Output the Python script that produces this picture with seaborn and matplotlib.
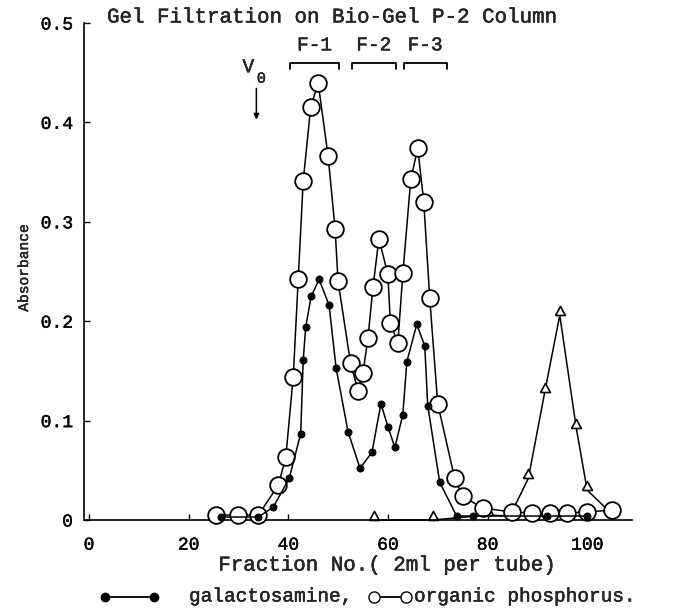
import pandas as pd
import seaborn as sns
import matplotlib.pyplot as plt
import matplotlib.patheffects as pe
from matplotlib.lines import Line2D
from matplotlib.text import Text

# galactosamine (filled dots)
gal_frac = [26.4, 34, 37, 40.2, 42.5, 43.0, 43.5, 44.6, 46.2, 48.2, 49.6, 52, 54.4,
            56.8, 58.6, 60, 61.4, 63, 63.8, 65.8, 67.4, 68, 70.4, 73.8, 77, 92, 100]
gal_abs = [0.003, 0.003, 0.013, 0.042, 0.087, 0.161, 0.194, 0.225, 0.242, 0.216,
           0.153, 0.089, 0.052, 0.068, 0.117, 0.094, 0.073, 0.106, 0.159, 0.197,
           0.175, 0.115, 0.038, 0.004, 0.004, 0.004, 0.004]

# organic phosphorus (open circles)
phos_frac = [25.4, 30, 34, 38, 39.5, 41, 42, 43, 44.5, 46, 48, 49.4, 50, 52.5, 54,
             55, 56, 57, 58.2, 60, 60.5, 62, 63, 64.6, 66, 67.2, 68.4, 70, 73.4, 75,
             79, 85, 89, 92.5, 96, 100, 105]
phos_abs = [0.005, 0.005, 0.005, 0.035, 0.063, 0.144, 0.242, 0.341, 0.415, 0.44,
            0.366, 0.293, 0.24, 0.158, 0.13, 0.148, 0.183, 0.234, 0.283, 0.247,
            0.198, 0.178, 0.248, 0.343, 0.374, 0.32, 0.223, 0.117, 0.042, 0.024,
            0.012, 0.008, 0.007, 0.007, 0.007, 0.008, 0.01]

# third trace (open triangles, not in the key)
tri_frac = [57.2, 69, 80, 84.5, 88.2, 91.5, 94.5, 97.8, 100, 105]
tri_abs = [0.0, 0.0, 0.005, 0.004, 0.042, 0.129, 0.206, 0.093, 0.030, 0.006]

# pooled fractions
pool_names = ["F-1", "F-2", "F-3"]
pool_start = [40.4, 52.8, 63.2]
pool_end = [50.2, 61.6, 71.8]
v0_frac = 33.6

xticks = [0, 20, 40, 60, 80, 100]
yticks = [0, 0.1, 0.2, 0.3, 0.4, 0.5]
ytick_labels = ["0", "0.1", "0.2", "0.3", "0.4", "0.5"]

sns.set_style("ticks")
plt.rcParams['font.family'] = ['Liberation Mono', 'DejaVu Sans Mono']

W, H = 689, 616
fig = plt.figure(figsize=(W / 100, H / 100), dpi=100)
ax = fig.add_axes([84 / W, 1 - 520 / H, (632 - 84) / W, (520 - 23) / H])

phos = pd.DataFrame({"frac": phos_frac, "abs": phos_abs})
gal = pd.DataFrame({"frac": gal_frac, "abs": gal_abs})
tri = pd.DataFrame({"frac": tri_frac, "abs": tri_abs})

# triangle standing on its data point
tri_marker = [(-0.6, 0), (0.6, 0), (0, 1.1), (-0.6, 0)]

sns.lineplot(data=tri, x="frac", y="abs", ax=ax, color="black", lw=1.1,
             marker=tri_marker, markersize=13, markerfacecolor="white",
             markeredgecolor="black", markeredgewidth=1.2, clip_on=False, zorder=2)
sns.lineplot(data=phos, x="frac", y="abs", ax=ax, color="black", lw=1.1,
             marker="o", markersize=12, markerfacecolor="white",
             markeredgecolor="black", markeredgewidth=1.3, clip_on=False, zorder=3)
sns.lineplot(data=gal, x="frac", y="abs", ax=ax, color="black", lw=1.1,
             marker="o", markersize=5, markerfacecolor="black",
             markeredgecolor="black", clip_on=False, zorder=4)

ax.set_xlim(-1, 109)
ax.set_ylim(0, 0.5)
ax.set_xticks(xticks)
ax.set_xticklabels([str(t) for t in xticks])
ax.set_yticks(yticks)
ax.set_yticklabels(ytick_labels)
ax.tick_params(direction="in", length=4, width=1, labelsize=13, colors="black")
ax.tick_params(axis="x", pad=12)
ax.tick_params(axis="y", pad=8)
sns.despine(ax=ax)
for s in ["left", "bottom"]:
    ax.spines[s].set_linewidth(1.2)
    ax.spines[s].set_color("black")
ax.set_xlabel("")
ax.set_ylabel("")

# pool brackets
for name, a, b in zip(pool_names, pool_start, pool_end):
    ax.plot([a, a, b, b], [0.454, 0.46, 0.46, 0.454], color="black", lw=1.3,
            clip_on=False)
    ax.text((a + b) / 2, 0.477, name, ha="center", va="center", fontsize=14)

# void volume marker
ax.annotate("", xy=(v0_frac, 0.400), xytext=(v0_frac, 0.437),
            arrowprops=dict(arrowstyle="-|>", color="black", lw=1.1,
                            mutation_scale=8))
ax.text(v0_frac - 1.6, 0.455, "V", ha="center", va="center", fontsize=14)
ax.text(v0_frac + 1.0, 0.444, "0", ha="center", va="center", fontsize=11)

fig.text(107 / W, 1 - 17 / H, "Gel Filtration on Bio-Gel P-2 Column",
         ha="left", va="center", fontsize=15)
fig.text(24 / W, 1 - 268 / H, "Absorbance", rotation=90, ha="center",
         va="center", fontsize=10.5)
fig.text(387 / W, 1 - 565 / H, "Fraction No.( 2ml per tube)", ha="center",
         va="center", fontsize=15)

# key line at the bottom
ky = 1 - 597 / H
fig.add_artist(Line2D([105 / W, 154 / W], [ky, ky], transform=fig.transFigure,
                      color="black", lw=1.3, marker="o", markersize=6,
                      markerfacecolor="black"))
fig.text(189 / W, ky, "galactosamine,", ha="left", va="center", fontsize=14)
fig.add_artist(Line2D([374 / W, 406 / W], [ky, ky], transform=fig.transFigure,
                      color="black", lw=1.3, marker="o", markersize=8,
                      markerfacecolor="white"))
fig.text(414 / W, ky, "organic phosphorus.", ha="left", va="center", fontsize=14)

# typewriter ink: thicken the regular strokes a little
for t in fig.findobj(Text):
    t.set_path_effects([pe.withStroke(linewidth=0.3, foreground="black")])

fig.savefig("out.png", dpi=100)
